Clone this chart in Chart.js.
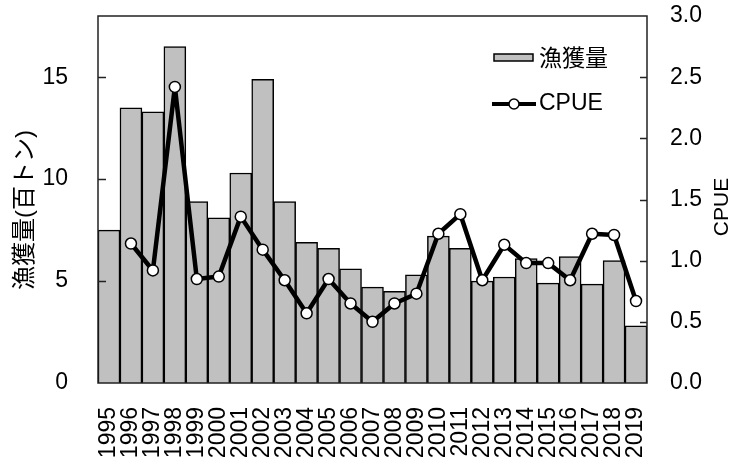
<!DOCTYPE html>
<html>
<head>
<meta charset="utf-8">
<script src="https://cdn.jsdelivr.net/npm/chart.js@4"></script>
<style>
  body { margin: 0; background: #fff; }
  #wrap { width: 735px; height: 459px; }
</style>
</head>
<body>
<div id="wrap"><canvas id="catchChart"></canvas></div>
<script>
// Data
const years = ["1995", "1996", "1997", "1998", "1999", "2000", "2001", "2002", "2003", "2004",
  "2005", "2006", "2007", "2008", "2009", "2010", "2011", "2012", "2013", "2014",
  "2015", "2016", "2017", "2018", "2019"];
const catchValues = [7.5, 13.5, 13.3, 16.5, 8.9, 8.1, 10.3, 14.9, 8.9, 6.9,
  6.6, 5.6, 4.7, 4.5, 5.3, 7.2, 6.6, 5.0, 5.2, 6.1,
  4.9, 6.2, 4.85, 6.0, 2.8];
const cpueValues = [null, 1.14, 0.92, 2.42, 0.85, 0.87, 1.36, 1.09, 0.84, 0.57,
  0.85, 0.65, 0.50, 0.65, 0.73, 1.22, 1.38, 0.84, 1.13, 0.98,
  0.98, 0.84, 1.22, 1.21, 0.67];

const FONT = "'Liberation Sans', Arial, 'Noto Sans CJK JP', sans-serif";
const JP_FONT = "'Liberation Sans', 'Noto Sans CJK JP', sans-serif";

// frame, inward ticks, axis titles and legend
const decorations = {
  id: "decorations",
  afterDatasetsDraw(chart) {
    const c = chart.ctx;
    const a = chart.chartArea;
    const yL = chart.scales.y;
    const yR = chart.scales.y1;
    c.save();
    c.strokeStyle = "#222";
    c.lineWidth = 1.5;
    c.strokeRect(a.left, a.top, a.right - a.left, a.bottom - a.top);

    yL.ticks.forEach(t => {
      if (t.value <= 0) return;
      const py = Math.round(yL.getPixelForValue(t.value)) + 0.5;
      c.beginPath(); c.moveTo(a.left, py); c.lineTo(a.left + 8, py); c.stroke();
    });
    yR.ticks.forEach(t => {
      if (t.value <= 0 || t.value >= 3) return;
      const py = Math.round(yR.getPixelForValue(t.value)) + 0.5;
      c.beginPath(); c.moveTo(a.right - 7, py); c.lineTo(a.right, py); c.stroke();
    });

    // axis titles
    c.fillStyle = "#000";
    c.textAlign = "center";
    c.textBaseline = "middle";
    c.font = "24px " + JP_FONT;
    c.save();
    c.translate(25, 210);
    c.rotate(-Math.PI / 2);
    c.fillText("漁獲量(百トン)", 0, 0);
    c.restore();
    c.font = "21px " + FONT;
    c.save();
    c.translate(722, 207);
    c.rotate(-Math.PI / 2);
    c.fillText("CPUE", 0, 0);
    c.restore();

    // legend
    c.fillStyle = "#c0c0c0";
    c.fillRect(494, 54, 39, 7);
    c.strokeStyle = "#000";
    c.lineWidth = 1.5;
    c.strokeRect(494, 54, 39, 7);
    c.fillStyle = "#000";
    c.textAlign = "left";
    c.font = "23px " + JP_FONT;
    c.fillText("漁獲量", 539, 60);

    c.lineWidth = 4;
    c.beginPath(); c.moveTo(492, 104); c.lineTo(536, 104); c.stroke();
    c.beginPath(); c.arc(514, 104, 5, 0, Math.PI * 2);
    c.fillStyle = "#fff"; c.fill();
    c.lineWidth = 1.5; c.stroke();
    c.fillStyle = "#000";
    c.font = "23px " + FONT;
    c.fillText("CPUE", 539, 104);
    c.restore();
  }
};

function fixPad(s) {
  s.paddingTop = 0;
  s.paddingBottom = 0;
  s.paddingLeft = 0;
  s.paddingRight = 0;
}

new Chart(document.getElementById("catchChart"), {
  data: {
    labels: years,
    datasets: [
      {
        type: "line",
        label: "CPUE",
        data: cpueValues,
        yAxisID: "y1",
        borderColor: "#000",
        borderWidth: 4.5,
        borderJoinStyle: "round",
        pointRadius: 5.5,
        pointBackgroundColor: "#fff",
        pointBorderColor: "#000",
        pointBorderWidth: 1.5,
        tension: 0,
        order: 0
      },
      {
        type: "bar",
        label: "漁獲量",
        data: catchValues,
        yAxisID: "y",
        backgroundColor: "#c0c0c0",
        borderColor: "#000",
        borderWidth: 1.5,
        barPercentage: 1,
        categoryPercentage: 1,
        order: 1
      }
    ]
  },
  options: {
    responsive: true,
    maintainAspectRatio: false,
    animation: false,
    layout: { padding: { top: 16 } },
    plugins: { legend: { display: false }, tooltip: { enabled: false } },
    scales: {
      x: {
        grid: { display: false, drawTicks: false },
        border: { display: false },
        ticks: { autoSkip: false, minRotation: 90, maxRotation: 90, padding: 24, color: "#000",
          font: { family: FONT, size: 23 } },
        afterFit: s => { s.height = 76; fixPad(s); }
      },
      y: {
        position: "left",
        min: 0,
        max: 18,
        grid: { display: false, drawTicks: false },
        border: { display: false },
        ticks: { stepSize: 5, includeBounds: false, padding: 30, color: "#000", font: { family: FONT, size: 23 } },
        afterFit: s => { s.width = 98; fixPad(s); }
      },
      y1: {
        position: "right",
        min: 0,
        max: 3,
        grid: { display: false, drawTicks: false },
        border: { display: false },
        ticks: { stepSize: 0.5, padding: 23, color: "#000", font: { family: FONT, size: 23 },
          callback: v => v.toFixed(1) },
        afterFit: s => { s.width = 88; fixPad(s); }
      }
    }
  },
  plugins: [decorations]
});
</script>
</body>
</html>
